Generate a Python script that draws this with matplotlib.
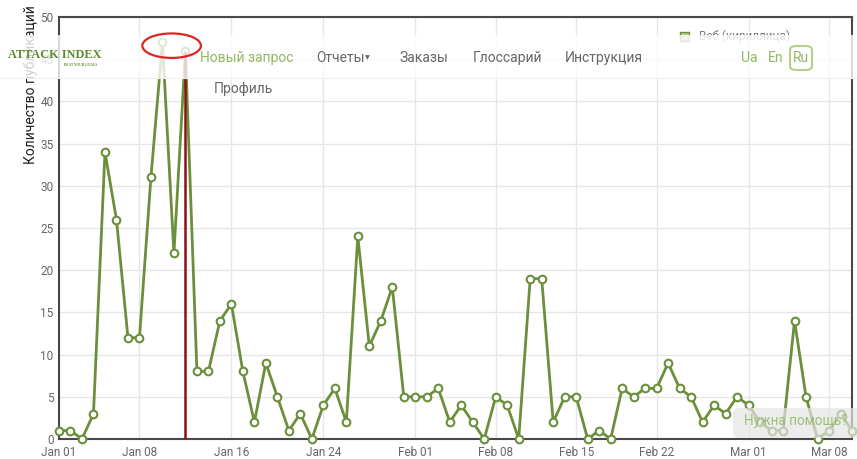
import matplotlib.pyplot as plt
import matplotlib.dates as mdates
from matplotlib.patches import Rectangle, Ellipse, FancyBboxPatch, Patch
import numpy as np
import pandas as pd

plt.rcParams['font.family'] = ['Roboto', 'DejaVu Sans']

# daily counts, 2016-01-01 .. 2016-03-10
jan = [1, 1, 0, 3, 34, 26, 12, 12, 31, 47, 22, 46, 8, 8, 14, 16, 8, 2, 9, 5,
       1, 3, 0, 4, 6, 2, 24, 11, 14, 18, 5]
feb = [5, 5, 6, 2, 4, 2, 0, 5, 4, 0, 19, 19, 2, 5, 5, 0, 1, 0, 6, 5,
       6, 6, 9, 6, 5, 2, 4, 3, 5]
mar = [4, 2, 1, 1, 14, 5, 0, 1, 3, 1]
counts = jan + feb + mar
dates = pd.date_range('2016-01-01', periods=len(counts), freq='D')

tick_dates = ['2016-01-01', '2016-01-08', '2016-01-16', '2016-01-24', '2016-02-01',
              '2016-02-08', '2016-02-15', '2016-02-22', '2016-03-01', '2016-03-08']
tick_labels = ['Jan 01', 'Jan 08', 'Jan 16', 'Jan 24', 'Feb 01',
               'Feb 08', 'Feb 15', 'Feb 22', 'Mar 01', 'Mar 08']
marked_day = '2016-01-12'
series_name = 'Веб (кириллица)'
y_label = 'Количество публикаций'

green = '#6b8f3b'
light_green = '#93b764'

fig = plt.figure(figsize=(8.57, 4.59), dpi=100)
ax = fig.add_axes([59 / 857, 20 / 459, 793 / 857, 422 / 459])

ax.plot(dates, counts, color=green, lw=2.0, marker='o', ms=5.5,
        mfc='white', mec=green, mew=1.5, clip_on=False, zorder=3)
md = pd.Timestamp(marked_day)
ax.vlines(md, 0, counts[list(dates).index(md)], color='#8b1111', lw=1.8, zorder=4)

ax.set_xlim(dates[0], dates[-1])
ax.set_ylim(0, 50)
ax.set_yticks(np.arange(0, 51, 5))
ax.set_xticks(pd.to_datetime(tick_dates))
ax.set_xticklabels(tick_labels)
ax.tick_params(length=0, labelsize=8.5, labelcolor='#666666')
ax.tick_params(axis='y', pad=4)
ax.tick_params(axis='x', pad=5)
ax.grid(True, color='#e6e6e6', lw=1)
ax.set_axisbelow(True)
for s in ax.spines.values():
    s.set_color('#484848')
    s.set_linewidth(1.5)

ax.legend(handles=[Patch(facecolor='#b5c99a', edgecolor=green, label=series_name)],
          loc='upper right', bbox_to_anchor=(0.935, 0.995), frameon=False,
          fontsize=8.5, labelcolor='#777777', handlelength=0.8, handleheight=0.8)

fig.text(31 / 857, 1 - 5 / 459, y_label, rotation=90, va='top', ha='center',
         fontsize=10, color='#222222')

# nav bar overlay
fig.add_artist(Rectangle((0, 1 - 78 / 459), 1, 43 / 459, transform=fig.transFigure,
                         facecolor='white', alpha=0.8, edgecolor='none', zorder=5))
fig.add_artist(plt.Line2D([0, 1], [1 - 78 / 459] * 2, transform=fig.transFigure,
                          color='#eeeeee', lw=0.8, zorder=5))

ny = 1 - 58 / 459
fig.text(8 / 857, 1 - 55 / 459, 'ATTACK INDEX', family='Liberation Serif', weight='bold',
         fontsize=8.8, color='#5d8a2e', va='center', zorder=6)
fig.text(97 / 857, 1 - 65 / 459, 'BEAT YOUR GOALS', family='Liberation Serif', weight='bold',
         fontsize=2.5, color='#5d8a2e', va='center', ha='right', zorder=6)
fig.text(200 / 857, ny, 'Новый запрос', fontsize=10, color=light_green, va='center', zorder=6)
fig.text(316 / 857, ny, 'Отчеты', fontsize=10, color='#666666', va='center', zorder=6)
fig.text(365 / 857, ny, '▼', fontsize=4.5, color='#666666', va='center',
         family='DejaVu Sans', zorder=6)
fig.text(399 / 857, ny, 'Заказы', fontsize=10, color='#666666', va='center', zorder=6)
fig.text(473 / 857, ny, 'Глоссарий', fontsize=10, color='#666666', va='center', zorder=6)
fig.text(565 / 857, ny, 'Инструкция', fontsize=10, color='#666666', va='center', zorder=6)
fig.text(741 / 857, ny, 'Ua', fontsize=10, color=light_green, va='center', zorder=6)
fig.text(768 / 857, ny, 'En', fontsize=10, color=light_green, va='center', zorder=6)
fig.add_artist(FancyBboxPatch((790 / 857, 1 - 70 / 459), 22 / 857, 24 / 459,
                              boxstyle='round,pad=0,rounding_size=0.008',
                              transform=fig.transFigure, facecolor='white',
                              edgecolor='#b5cf8a', lw=1.5, zorder=6))
fig.text(801 / 857, ny, 'Ru', fontsize=10, color=light_green, va='center', ha='center', zorder=7)
fig.text(214 / 857, 1 - 89 / 459, 'Профиль', fontsize=10, color='#666666', va='center', zorder=6)

# help box
fig.add_artist(FancyBboxPatch((733 / 857, 1 - 438 / 459), 140 / 857, 30 / 459,
                              boxstyle='round,pad=0,rounding_size=0.01',
                              transform=fig.transFigure, facecolor='#e4e4e4',
                              edgecolor='none', alpha=0.7, zorder=6))
fig.text(744 / 857, 1 - 421 / 459, 'Нужна помощь?', fontsize=9.8, color=light_green,
         alpha=0.85, va='center', zorder=7)

# red ellipse highlight
x0 = mdates.date2num(dates[0])
fig.add_artist(Ellipse((x0 + 9.8, 46.6), 5.1, 2.9, transform=ax.transData,
                       facecolor='none', edgecolor='#e02424', lw=1.6, zorder=8))

fig.savefig('out.png', dpi=100)
